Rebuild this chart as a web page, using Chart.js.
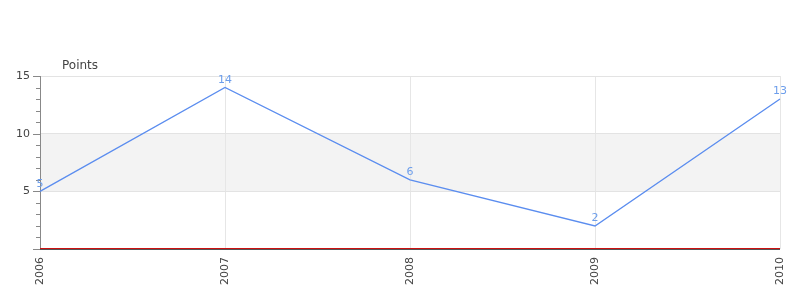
<!DOCTYPE html>
<html>
<head>
<meta charset="utf-8">
<script src="https://cdn.jsdelivr.net/npm/chart.js@4/dist/chart.umd.min.js"></script>
<style>
    html, body { margin: 0; padding: 0; background: #fff; }
    #wrap { width: 800px; height: 300px; }
</style>
</head>
<body>
<div id="wrap"><canvas id="pointsChart"></canvas></div>
<script>
const years = ['2006', '2007', '2008', '2009', '2010'];
const points = [5, 14, 6, 2, 13];
const yLabels = [5, 10, 15];
const bandFrom = 5;
const bandTo = 10;
const axisTitle = 'Points';

// Shaded band + zero line + y tick marks + point labels
const decorPlugin = {
    id: 'decor',
    beforeDraw(chart) {
        const { ctx, chartArea, scales } = chart;
        const y = scales.y;
        ctx.save();
        ctx.fillStyle = '#f3f3f3';
        const top = y.getPixelForValue(bandTo);
        const bottom = y.getPixelForValue(bandFrom);
        ctx.fillRect(chartArea.left, top, chartArea.right - chartArea.left, bottom - top);
        ctx.restore();
    },
    afterDraw(chart) {
        const { ctx, chartArea, scales } = chart;
        const y = scales.y;
        ctx.save();
        // y tick marks
        ctx.strokeStyle = '#888';
        ctx.lineWidth = 1;
        for (let v = 0; v <= 15; v++) {
            const py = Math.round(y.getPixelForValue(v)) + 0.5;
            const len = v % 5 === 0 ? 7 : 4;
            ctx.beginPath();
            ctx.moveTo(chartArea.left - len, py);
            ctx.lineTo(chartArea.left, py);
            ctx.stroke();
        }
        // zero line: red over a dark axis line
        const zy = Math.round(y.getPixelForValue(0));
        ctx.lineWidth = 1;
        ctx.strokeStyle = '#cc1111';
        ctx.beginPath();
        ctx.moveTo(chartArea.left, zy - 0.5);
        ctx.lineTo(chartArea.right, zy - 0.5);
        ctx.stroke();
        ctx.strokeStyle = '#555';
        ctx.beginPath();
        ctx.moveTo(chartArea.left, zy + 0.5);
        ctx.lineTo(chartArea.right, zy + 0.5);
        ctx.stroke();
        // axis title
        ctx.fillStyle = '#444';
        ctx.font = '12px "DejaVu Sans"';
        ctx.textAlign = 'left';
        ctx.textBaseline = 'middle';
        ctx.fillText(axisTitle, chartArea.left + 22, chartArea.top - 10);
        // point labels
        const meta = chart.getDatasetMeta(0);
        ctx.fillStyle = '#6d9eeb';
        ctx.font = '11px "DejaVu Sans"';
        ctx.textAlign = 'center';
        ctx.textBaseline = 'bottom';
        meta.data.forEach((pt, i) => {
            ctx.fillText(String(points[i]), pt.x, pt.y - 2);
        });
        ctx.restore();
    }
};

new Chart(document.getElementById('pointsChart'), {
    type: 'line',
    data: {
        labels: years,
        datasets: [{
            data: points,
            borderColor: '#5b8def',
            borderWidth: 1.3,
            pointRadius: 0,
            tension: 0,
            fill: false
        }]
    },
    options: {
        responsive: true,
        maintainAspectRatio: false,
        animation: false,
        layout: { padding: { top: 76, right: 20, left: 0, bottom: 0 } },
        plugins: {
            legend: { display: false },
            tooltip: { enabled: false }
        },
        scales: {
            x: {
                offset: false,
                grid: {
                    color: '#e6e6e6',
                    drawTicks: false
                },
                border: { display: false },
                ticks: {
                    color: '#444',
                    font: { size: 11, family: 'DejaVu Sans' },
                    minRotation: 90,
                    maxRotation: 90,
                    padding: 8
                },
                afterFit(scale) {
                    scale.height = 51;
                    scale.paddingLeft = 0;
                    scale.paddingRight = 0;
                }
            },
            y: {
                min: 0,
                max: 15,
                grid: {
                    color: (c) => (c.tick.value % 5 === 0 && c.tick.value !== 0) ? '#e3e3e3' : 'rgba(0,0,0,0)',
                    drawTicks: false
                },
                border: { color: '#888' },
                ticks: {
                    stepSize: 1,
                    autoSkip: false,
                    color: '#444',
                    font: { size: 11, family: 'DejaVu Sans' },
                    padding: 10,
                    callback: (v) => yLabels.includes(v) ? String(v) : ''
                },
                afterFit(scale) { scale.width = 40; }
            }
        }
    },
    plugins: [decorPlugin]
});
</script>
</body>
</html>
